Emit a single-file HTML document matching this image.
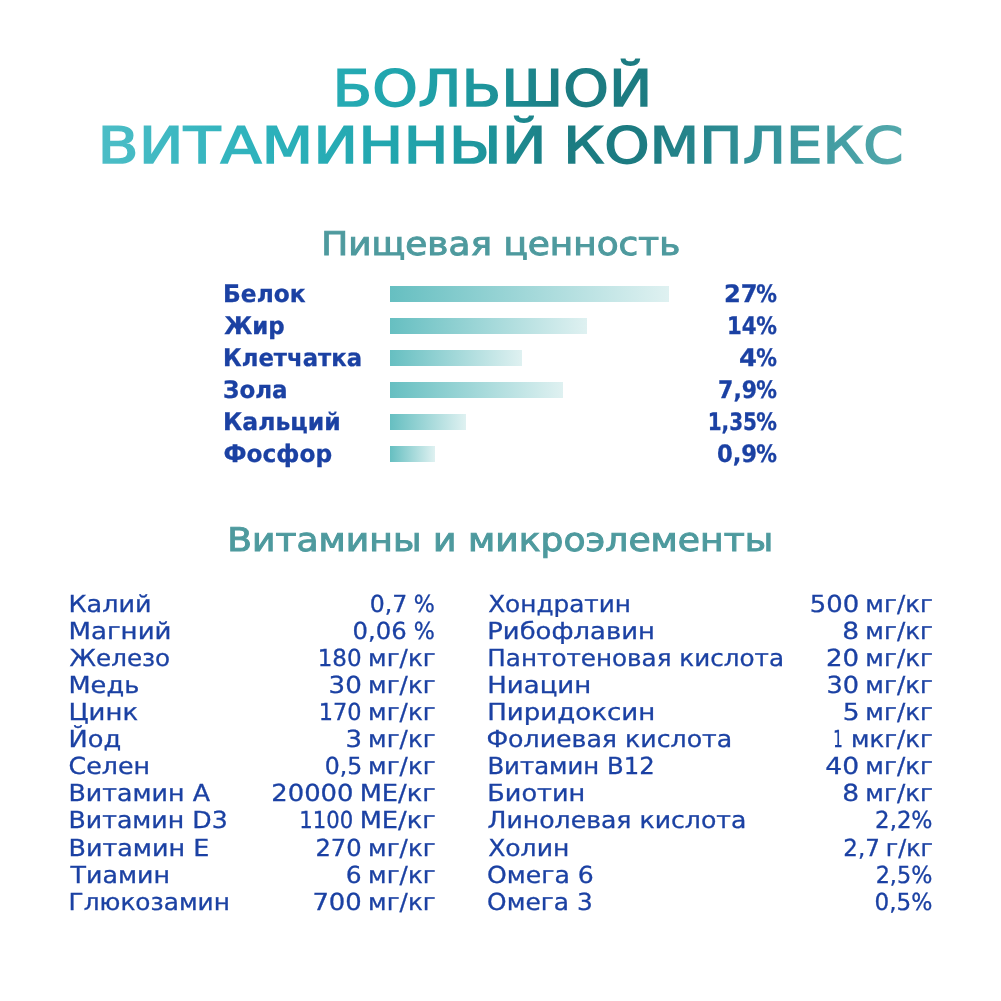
<!DOCTYPE html>
<html lang="ru"><head><meta charset="utf-8"><title>Большой витаминный комплекс</title>
<style>
html,body{margin:0;padding:0;background:#fff}
body{width:1001px;height:1001px;overflow:hidden;position:relative}
.page{position:absolute;left:0;top:0;width:1001px;height:1001px;background:#fff;overflow:hidden}
h1,h2,ul,li,section,.col,.row,.line,.v{margin:0;padding:0;list-style:none;font-weight:normal;font-size:0;position:static;display:block}
.t{position:absolute;left:0;top:0;white-space:nowrap;transform-origin:0 0;display:block}
.tt{font:400 50.3px "DejaVu Sans","Liberation Sans",sans-serif;line-height:64px;color:#1f8f96;-webkit-text-stroke:1.5px transparent;-webkit-background-clip:text;background-clip:text;-webkit-text-fill-color:transparent}
.hh{font:400 32.6px "DejaVu Sans","Liberation Sans",sans-serif;line-height:40px;color:#4e9a9e;-webkit-text-stroke:1.0px #4e9a9e}
.lb{font:700 24.0px "DejaVu Sans","Liberation Sans",sans-serif;line-height:30px;color:#1b41a3;-webkit-text-stroke:0.3px #1b41a3}
.tx{font:400 23.45px "DejaVu Sans","Liberation Sans",sans-serif;line-height:30px;color:#1b41a3;-webkit-text-stroke:0.3px #1b41a3}
.bar{position:absolute;left:390px;height:16.05px;display:block;background:linear-gradient(90deg,#66bfc1,#dff1f1)}
</style></head>
<body><div class="page">
<h1><div class="line"><span class="t tt" style="transform:translate(332.53px,57px) skewX(0.05deg) scaleX(1.1528);background-image:linear-gradient(90deg,#4cbdc6 -201.7px,#2fb3bd -71.6px,#20a5ad 58.5px,#1e969d 127.9px,#1b7c82 197.3px,#1c7b81 266.7px,#33929a 370.8px,#54a9ac 496.6px)">БОЛЬШОЙ</span></div><div class="line"><span class="t tt" style="transform:translate(97.46px,114px) skewX(0.05deg) scaleX(1.1947);background-image:linear-gradient(90deg,#4cbdc6 2.1px,#2fb3bd 127.7px,#20a5ad 253.2px,#1e969d 320.2px,#1b7c82 387.1px,#1c7b81 454.1px,#33929a 554.5px,#54a9ac 675.9px)">ВИТАМИННЫЙ</span> <span class="t tt" style="transform:translate(563.26px,114px) skewX(0.05deg) scaleX(1.1460);background-image:linear-gradient(90deg,#4cbdc6 -404.3px,#2fb3bd -273.4px,#20a5ad -142.5px,#1e969d -72.7px,#1b7c82 -2.8px,#1c7b81 67.0px,#33929a 171.7px,#54a9ac 298.2px)">КОМПЛЕКС</span></div></h1>
<section class="nutrition"><h2><span class="t hh" style="transform:translate(321.29px,224px) skewX(0.05deg) scaleX(1.1000)">Пищевая ценность</span></h2><ul>
<li><span class="t lb" style="transform:translate(223.01px,279px) skewX(0.05deg) scaleX(0.9730)">Белок</span><i class="bar" style="top:285.85px;width:278.9px"></i><b class="v"><span class="t lb" style="transform:translate(723.94px,279px) skewX(0.05deg) scaleX(1.0067)">27</span><span class="t lb" style="transform:translate(756.33px,279px) skewX(0.05deg) scaleX(0.8603)">%</span></b></li>
<li><span class="t lb" style="transform:translate(224.16px,311px) skewX(0.05deg) scaleX(0.9552)">Жир</span><i class="bar" style="top:317.85px;width:196.9px"></i><b class="v"><span class="t lb" style="transform:translate(727.04px,311px) skewX(0.05deg) scaleX(0.8863)">14</span><span class="t lb" style="transform:translate(756.33px,311px) skewX(0.05deg) scaleX(0.8603)">%</span></b></li>
<li><span class="t lb" style="transform:translate(223.05px,343px) skewX(0.05deg) scaleX(0.9492)">Клетчатка</span><i class="bar" style="top:349.85px;width:131.8px"></i><b class="v"><span class="t lb" style="transform:translate(738.89px,343px) skewX(0.05deg) scaleX(1.0738)">4</span><span class="t lb" style="transform:translate(756.33px,343px) skewX(0.05deg) scaleX(0.8603)">%</span></b></li>
<li><span class="t lb" style="transform:translate(223.00px,375px) skewX(0.05deg) scaleX(0.9593)">Зола</span><i class="bar" style="top:381.85px;width:172.7px"></i><b class="v"><span class="t lb" style="transform:translate(718.07px,375px) skewX(0.05deg) scaleX(0.9165)">7,9</span><span class="t lb" style="transform:translate(756.33px,375px) skewX(0.05deg) scaleX(0.8603)">%</span></b></li>
<li><span class="t lb" style="transform:translate(222.99px,407px) skewX(0.05deg) scaleX(0.9813)">Кальций</span><i class="bar" style="top:413.85px;width:76.1px"></i><b class="v"><span class="t lb" style="transform:translate(707.68px,407px) skewX(0.05deg) scaleX(0.8331)">1,35</span><span class="t lb" style="transform:translate(756.33px,407px) skewX(0.05deg) scaleX(0.8603)">%</span></b></li>
<li><span class="t lb" style="transform:translate(223.38px,439px) skewX(0.05deg) scaleX(0.9708)">Фосфор</span><i class="bar" style="top:445.85px;width:44.8px"></i><b class="v"><span class="t lb" style="transform:translate(716.90px,439px) skewX(0.05deg) scaleX(0.9449)">0,9</span><span class="t lb" style="transform:translate(756.33px,439px) skewX(0.05deg) scaleX(0.8603)">%</span></b></li>
</ul></section>
<section class="vitamins"><h2><span class="t hh" style="transform:translate(227.17px,520px) skewX(0.05deg) scaleX(1.1087)">Витамины и микроэлементы</span></h2>
<div class="col">
<div class="row"><span class="t tx" style="transform:translate(68.46px,589px) skewX(0.05deg) scaleX(1.0863)">Калий</span><span class="v"><span class="t tx" style="transform:translate(369.64px,589px) skewX(0.05deg) scaleX(1.0066)">0,7</span> <span class="t tx" style="transform:translate(413.61px,589px) skewX(0.05deg) scaleX(0.9453)">%</span></span></div>
<div class="row"><span class="t tx" style="transform:translate(68.41px,616px) skewX(0.05deg) scaleX(1.1128)">Магний</span><span class="v"><span class="t tx" style="transform:translate(352.50px,616px) skewX(0.05deg) scaleX(1.0384)">0,06</span> <span class="t tx" style="transform:translate(413.61px,616px) skewX(0.05deg) scaleX(0.9453)">%</span></span></div>
<div class="row"><span class="t tx" style="transform:translate(69.54px,643px) skewX(0.05deg) scaleX(1.0489)">Железо</span><span class="v"><span class="t tx" style="transform:translate(317.69px,643px) skewX(0.05deg) scaleX(0.9820)">180</span> <span class="t tx" style="transform:translate(368.05px,643px) skewX(0.05deg) scaleX(1.0508)">мг/кг</span></span></div>
<div class="row"><span class="t tx" style="transform:translate(68.45px,670px) skewX(0.05deg) scaleX(1.0949)">Медь</span><span class="v"><span class="t tx" style="transform:translate(328.57px,670px) skewX(0.05deg) scaleX(1.1144)">30</span> <span class="t tx" style="transform:translate(368.05px,670px) skewX(0.05deg) scaleX(1.0508)">мг/кг</span></span></div>
<div class="row"><span class="t tx" style="transform:translate(68.42px,697px) skewX(0.05deg) scaleX(1.1084)">Цинк</span><span class="v"><span class="t tx" style="transform:translate(318.75px,697px) skewX(0.05deg) scaleX(0.9576)">170</span> <span class="t tx" style="transform:translate(368.05px,697px) skewX(0.05deg) scaleX(1.0508)">мг/кг</span></span></div>
<div class="row"><span class="t tx" style="transform:translate(68.44px,724px) skewX(0.05deg) scaleX(1.0960)">Йод</span><span class="v"><span class="t tx" style="transform:translate(345.58px,724px) skewX(0.05deg) scaleX(1.1111)">3</span> <span class="t tx" style="transform:translate(368.05px,724px) skewX(0.05deg) scaleX(1.0508)">мг/кг</span></span></div>
<div class="row"><span class="t tx" style="transform:translate(68.56px,751px) skewX(0.05deg) scaleX(1.0784)">Селен</span><span class="v"><span class="t tx" style="transform:translate(324.64px,751px) skewX(0.05deg) scaleX(1.0066)">0,5</span> <span class="t tx" style="transform:translate(368.05px,751px) skewX(0.05deg) scaleX(1.0508)">мг/кг</span></span></div>
<div class="row"><span class="t tx" style="transform:translate(68.48px,778px) skewX(0.05deg) scaleX(1.0793)">Витамин А</span><span class="v"><span class="t tx" style="transform:translate(271.29px,778px) skewX(0.05deg) scaleX(1.1021)">20000</span> <span class="t tx" style="transform:translate(359.64px,778px) skewX(0.05deg) scaleX(1.0963)">МЕ/кг</span></span></div>
<div class="row"><span class="t tx" style="transform:translate(68.49px,805px) skewX(0.05deg) scaleX(1.0760)">Витамин D3</span><span class="v"><span class="t tx" style="transform:translate(299.28px,805px) skewX(0.05deg) scaleX(0.9042)">1100</span> <span class="t tx" style="transform:translate(359.64px,805px) skewX(0.05deg) scaleX(1.0963)">МЕ/кг</span></span></div>
<div class="row"><span class="t tx" style="transform:translate(68.47px,833px) skewX(0.05deg) scaleX(1.0848)">Витамин Е</span><span class="v"><span class="t tx" style="transform:translate(315.40px,833px) skewX(0.05deg) scaleX(1.0349)">270</span> <span class="t tx" style="transform:translate(368.05px,833px) skewX(0.05deg) scaleX(1.0508)">мг/кг</span></span></div>
<div class="row"><span class="t tx" style="transform:translate(70.57px,860px) skewX(0.05deg) scaleX(1.0788)">Тиамин</span><span class="v"><span class="t tx" style="transform:translate(345.75px,860px) skewX(0.05deg) scaleX(1.0656)">6</span> <span class="t tx" style="transform:translate(368.05px,860px) skewX(0.05deg) scaleX(1.0508)">мг/кг</span></span></div>
<div class="row"><span class="t tx" style="transform:translate(68.53px,887px) skewX(0.05deg) scaleX(1.0578)">Глюкозамин</span><span class="v"><span class="t tx" style="transform:translate(312.37px,887px) skewX(0.05deg) scaleX(1.1047)">700</span> <span class="t tx" style="transform:translate(368.05px,887px) skewX(0.05deg) scaleX(1.0508)">мг/кг</span></span></div>
</div>
<div class="col">
<div class="row"><span class="t tx" style="transform:translate(488.13px,589px) skewX(0.05deg) scaleX(1.0555)">Хондратин</span><span class="v"><span class="t tx" style="transform:translate(809.68px,589px) skewX(0.05deg) scaleX(1.1045)">500</span> <span class="t tx" style="transform:translate(865.35px,589px) skewX(0.05deg) scaleX(1.0508)">мг/кг</span></span></div>
<div class="row"><span class="t tx" style="transform:translate(487.23px,616px) skewX(0.05deg) scaleX(1.1037)">Рибофлавин</span><span class="v"><span class="t tx" style="transform:translate(842.27px,616px) skewX(0.05deg) scaleX(1.1311)">8</span> <span class="t tx" style="transform:translate(865.35px,616px) skewX(0.05deg) scaleX(1.0508)">мг/кг</span></span></div>
<div class="row"><span class="t tx" style="transform:translate(487.34px,643px) skewX(0.05deg) scaleX(1.0504)">Пантотеновая кислота</span><span class="v"><span class="t tx" style="transform:translate(825.98px,643px) skewX(0.05deg) scaleX(1.1107)">20</span> <span class="t tx" style="transform:translate(865.35px,643px) skewX(0.05deg) scaleX(1.0508)">мг/кг</span></span></div>
<div class="row"><span class="t tx" style="transform:translate(487.21px,670px) skewX(0.05deg) scaleX(1.1098)">Ниацин</span><span class="v"><span class="t tx" style="transform:translate(826.51px,670px) skewX(0.05deg) scaleX(1.0921)">30</span> <span class="t tx" style="transform:translate(865.35px,670px) skewX(0.05deg) scaleX(1.0508)">мг/кг</span></span></div>
<div class="row"><span class="t tx" style="transform:translate(487.21px,697px) skewX(0.05deg) scaleX(1.1117)">Пиридоксин</span><span class="v"><span class="t tx" style="transform:translate(842.83px,697px) skewX(0.05deg) scaleX(1.1316)">5</span> <span class="t tx" style="transform:translate(865.35px,697px) skewX(0.05deg) scaleX(1.0508)">мг/кг</span></span></div>
<div class="row"><span class="t tx" style="transform:translate(486.36px,724px) skewX(0.05deg) scaleX(1.0761)">Фолиевая кислота</span><span class="v"><span class="t tx" style="transform:translate(833.25px,724px) skewX(0.05deg) scaleX(0.6368)">1</span> <span class="t tx" style="transform:translate(850.96px,724px) skewX(0.05deg) scaleX(1.0444)">мкг/кг</span></span></div>
<div class="row"><span class="t tx" style="transform:translate(487.36px,751px) skewX(0.05deg) scaleX(1.0403)">Витамин В12</span><span class="v"><span class="t tx" style="transform:translate(825.32px,751px) skewX(0.05deg) scaleX(1.1337)">40</span> <span class="t tx" style="transform:translate(865.35px,751px) skewX(0.05deg) scaleX(1.0508)">мг/кг</span></span></div>
<div class="row"><span class="t tx" style="transform:translate(487.25px,778px) skewX(0.05deg) scaleX(1.0911)">Биотин</span><span class="v"><span class="t tx" style="transform:translate(842.27px,778px) skewX(0.05deg) scaleX(1.1311)">8</span> <span class="t tx" style="transform:translate(865.35px,778px) skewX(0.05deg) scaleX(1.0508)">мг/кг</span></span></div>
<div class="row"><span class="t tx" style="transform:translate(487.50px,805px) skewX(0.05deg) scaleX(1.0728)">Линолевая кислота</span><span class="v"><span class="t tx" style="transform:translate(875.09px,805px) skewX(0.05deg) scaleX(0.9770)">2,2</span><span class="t tx" style="transform:translate(911.20px,805px) skewX(0.05deg) scaleX(0.9502)">%</span></span></div>
<div class="row"><span class="t tx" style="transform:translate(488.12px,833px) skewX(0.05deg) scaleX(1.0687)">Холин</span><span class="v"><span class="t tx" style="transform:translate(843.28px,833px) skewX(0.05deg) scaleX(0.9802)">2,7</span> <span class="t tx" style="transform:translate(885.73px,833px) skewX(0.05deg) scaleX(1.0118)">г/кг</span></span></div>
<div class="row"><span class="t tx" style="transform:translate(487.07px,860px) skewX(0.05deg) scaleX(1.0718)">Омега 6</span><span class="v"><span class="t tx" style="transform:translate(875.62px,860px) skewX(0.05deg) scaleX(0.9535)">2,5</span><span class="t tx" style="transform:translate(911.20px,860px) skewX(0.05deg) scaleX(0.9502)">%</span></span></div>
<div class="row"><span class="t tx" style="transform:translate(487.08px,887px) skewX(0.05deg) scaleX(1.0607)">Омега 3</span><span class="v"><span class="t tx" style="transform:translate(874.47px,887px) skewX(0.05deg) scaleX(0.9861)">0,5</span><span class="t tx" style="transform:translate(911.20px,887px) skewX(0.05deg) scaleX(0.9502)">%</span></span></div>
</div>
</section>
</div></body></html>
